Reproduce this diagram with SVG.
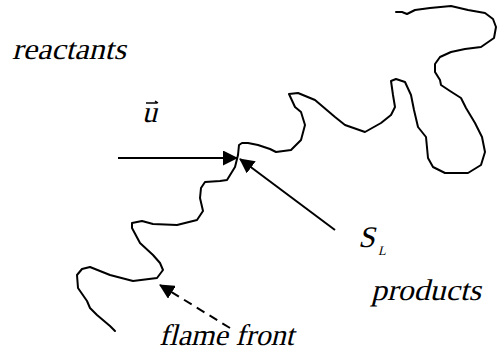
<svg xmlns="http://www.w3.org/2000/svg" width="498" height="358" viewBox="0 0 498 358">
  <style>
    text { font-size: 30px; fill: #000; }
    .front { fill: none; stroke: #000; stroke-width: 2; stroke-linejoin: round; stroke-linecap: round; }
    .conn { fill: none; stroke: #000; stroke-width: 2; }
    .dash { stroke-dasharray: 9 6; }
  </style>
  <defs>
    <marker id="head" viewBox="0 0 15 15" refX="14" refY="7.5" markerWidth="15" markerHeight="15" markerUnits="userSpaceOnUse" orient="auto">
      <path d="M0,0 L15,7.5 L0,15 z" fill="#000"/>
    </marker>
  </defs>

  <!-- wrinkled flame front -->
  <g id="flame-front">
    <path class="front" d="M396,12 L402,12 L407,14 L415,10 L430,8 L451,6 L468,10 L485,13 L493,19 L496,27 L494,38 L481,47 L465,49 L451,52 L440,57 L435,64 L435,72 L440,80 L441,85 L450,91 L461,98 L466,108 L475,123 L482,137 L485,152 L481,165 L468,173 L445,173 L433,167 L428,158 L426,137 L418,127 L414,110 L411,95 L405,82 L396,79 L391,81 L393,95 L395,107 L391,115 L381,123 L365,132 L345,125 L335,117 L315,100 L298,93 L289,94 L295,107 L301,112 L305,125 L301,140 L291,150 L276,152 L270,149 L258,145 L248,143 L242,143 L239,145 L238,155 L235,167 L227,180 L220,181 L205,182 L201,188 L200,198 L203,211 L197,220 L177,225 L153,224 L142,221 L132,223 L132,228 L140,243 L153,255 L160,263 L163,270 L157,278 L133,281 L110,275 L90,267 L82,269 L77,275 L78,288 L87,301 L90,308 L97,315 L110,326 L115,331"/>
  </g>

  <!-- labels (slanted serif) -->
  <g id="reactants" transform="translate(12,59) skewX(-14)">
    <text x="0" y="0" font-family="Liberation Serif" textLength="114" lengthAdjust="spacingAndGlyphs">reactants</text>
  </g>
  <g id="velocity">
    <g transform="translate(142,122) skewX(-14)"><text x="0" y="0" font-family="Liberation Serif">u</text></g>
    <!-- vector accent over u -->
    <path d="M146,103 L157,103 M155,101 L158,103" fill="none" stroke="#000" stroke-width="1.5"/>
  </g>
  <g id="burning-velocity">
    <g transform="translate(358,247) skewX(-14)"><text x="0" y="0" font-family="Liberation Serif">S</text></g>
    <g transform="translate(378,255) skewX(-14)"><text x="0" y="0" font-family="Liberation Serif" style="font-size:13px">L</text></g>
  </g>
  <g id="products" transform="translate(371,300) skewX(-14)">
    <text x="0" y="0" font-family="Liberation Serif" textLength="110" lengthAdjust="spacingAndGlyphs">products</text>
  </g>
  <g id="flame-front-label" transform="translate(159,345) skewX(-14)">
    <text x="0" y="0" font-family="Liberation Serif" textLength="135" lengthAdjust="spacingAndGlyphs">flame front</text>
  </g>

  <!-- arrows -->
  <g id="connectors">
    <line class="conn" x1="118" y1="158" x2="237" y2="158" marker-end="url(#head)"/>
    <line class="conn" x1="335" y1="230" x2="240" y2="159" marker-end="url(#head)"/>
    <line class="conn dash" x1="230" y1="328" x2="160" y2="285" marker-end="url(#head)"/>
  </g>
</svg>
